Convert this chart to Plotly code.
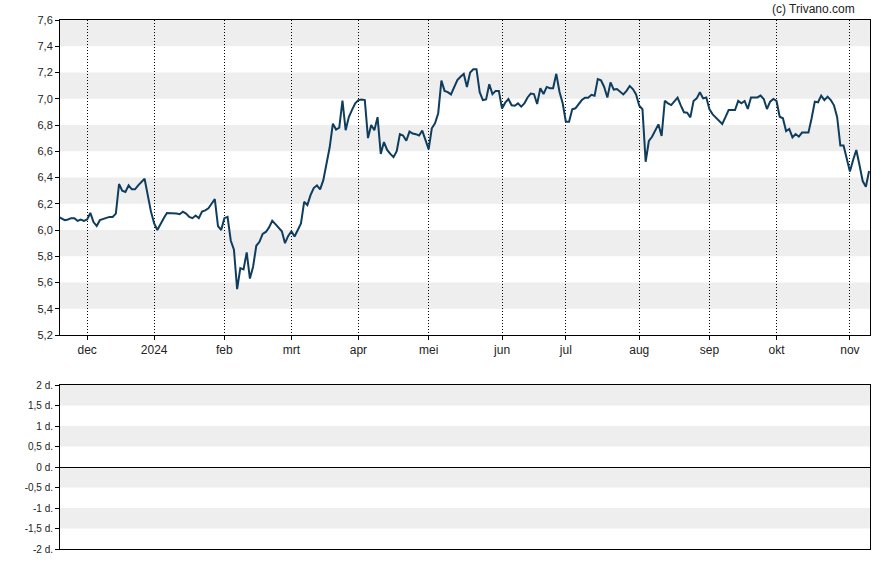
import pandas as pd
import plotly.graph_objects as go

# ---- data -------------------------------------------------------------
# trading-day offsets (trading days counted from 2023-11-20) and closing prices
day_idx = [0, 2, 3, 4, 5, 6, 7, 8, 9, 10, 11, 12, 13, 14, 15, 16, 17, 18, 19, 20,
           21, 22, 23, 24, 25, 26, 27, 29, 30, 31, 32, 33, 34, 35, 36, 37, 38, 39, 40, 41,
           42, 43, 44, 45, 46, 47, 48, 49, 50, 51, 52, 53, 54, 55, 56, 57, 58, 59, 60, 61,
           62, 63, 64, 65, 66, 67, 68, 69, 70, 71, 72, 73, 74, 75, 76, 77, 78, 79, 80, 81,
           82, 83, 84, 85, 86, 87, 88, 89, 90, 91, 92, 93, 94, 95, 96, 97, 98, 99, 100, 101,
           102, 103, 104, 105, 106, 107, 108, 109, 110, 111, 112, 113, 114, 115, 116, 117, 118, 119, 120, 121,
           122, 123, 124, 125, 126, 127, 128, 129, 130, 131, 132, 133, 134, 135, 136, 137, 138, 139, 140, 141,
           142, 143, 144, 145, 146, 147, 148, 149, 150, 151, 152, 153, 154, 155, 156, 157, 158, 159, 160, 161,
           162, 163, 164, 165, 166, 167, 168, 169, 170, 171, 172, 173, 174, 175, 176, 177, 178, 179, 180, 181,
           182, 183, 184, 185, 186, 187, 188, 189, 190, 191, 192, 193, 194, 195, 196, 197, 198, 199, 200, 201,
           202, 203, 204, 205, 206, 207, 208, 209, 210, 211, 212, 213, 214, 215, 216, 217, 218, 219, 220, 221,
           222, 223, 224, 225, 226, 227, 228, 229, 230, 231, 232, 233, 234, 235, 236, 237, 238, 239, 240, 241,
           242, 243, 244, 245, 246, 247, 248, 249, 250, 251, 252, 253, 254]
price = [6.10, 6.075, 6.08, 6.09, 6.09, 6.07, 6.08, 6.07, 6.08, 6.13, 6.06, 6.03, 6.075, 6.085, 6.095, 6.10, 6.10, 6.125, 6.35, 6.30,
         6.29, 6.34, 6.31, 6.31, 6.34, 6.365, 6.39, 6.14, 6.05, 6.00, 6.05, 6.09, 6.13, 6.13, 6.125, 6.125, 6.12, 6.14, 6.125, 6.10,
         6.09, 6.11, 6.09, 6.14, 6.15, 6.165, 6.20, 6.235, 6.03, 6.00, 6.09, 6.10, 5.92, 5.85, 5.55, 5.71, 5.70, 5.83, 5.63, 5.72,
         5.88, 5.91, 5.97, 5.985, 6.02, 6.07, 6.045, 6.02, 5.99, 5.90, 5.955, 5.99, 5.95, 6.00, 6.05, 6.215, 6.19, 6.265, 6.32, 6.34,
         6.31, 6.38, 6.52, 6.63, 6.81, 6.765, 6.78, 6.985, 6.76, 6.86, 6.915, 6.965, 6.99, 6.995, 6.99, 6.70, 6.80, 6.76, 6.86, 6.58,
         6.67, 6.61, 6.58, 6.555, 6.60, 6.73, 6.72, 6.68, 6.75, 6.735, 6.73, 6.72, 6.757, 6.686, 6.615, 6.775, 6.813, 6.89, 7.138, 7.06,
         7.05, 7.033, 7.09, 7.143, 7.168, 7.19, 7.09, 7.20, 7.225, 7.225, 7.05, 6.99, 6.995, 7.11, 7.035, 7.06, 7.06, 6.925, 6.97,
         6.998, 6.95, 6.947, 6.965, 6.94, 6.965, 7.01, 7.04, 7.036, 6.96, 7.08, 7.036, 7.09, 7.08, 7.08, 7.19, 7.054, 6.965, 6.825, 6.825,
         6.92, 6.927, 6.957, 6.99, 7.008, 7.008, 7.03, 7.023, 7.15, 7.14, 7.09, 7.01, 7.125, 7.07, 7.074, 7.05, 7.033, 7.06, 7.097, 7.074,
         7.033, 6.947, 6.92, 6.52, 6.678, 6.71, 6.754, 6.805, 6.716, 6.985, 6.965, 6.952, 6.98, 7.008, 6.95, 6.897, 6.894, 6.858, 6.983, 7.003,
         7.049, 7.003, 7.01, 6.92, 6.881, 6.858, 6.838, 6.808, 6.86, 6.914, 6.914, 6.914, 6.983, 6.965, 6.983, 6.922, 7.01, 7.01, 7.01, 7.024,
         6.998, 6.922, 6.978, 6.998, 6.983, 6.863, 6.851, 6.754, 6.77, 6.706, 6.731, 6.711, 6.742, 6.742, 6.742, 6.851, 6.978, 6.973, 7.024, 6.99,
         7.016, 6.99, 6.95, 6.86, 6.643, 6.643, 6.546, 6.445, 6.533, 6.61, 6.495, 6.373, 6.33, 6.45]

holidays = ["2024-01-01"]

month_ticks = ["2023-12-01", "2024-01-02", "2024-02-01", "2024-03-01", "2024-04-01", "2024-05-01",
               "2024-06-03", "2024-07-01", "2024-08-01", "2024-09-02", "2024-10-01", "2024-11-01"]
month_labels = ["dec", "2024", "feb", "mrt", "apr", "mei", "jun", "jul", "aug", "sep", "okt", "nov"]

price_ticks = [5.2, 5.4, 5.6, 5.8, 6.0, 6.2, 6.4, 6.6, 6.8, 7.0, 7.2, 7.4, 7.6]
lower_ticks = [-2, -1.5, -1, -0.5, 0, 0.5, 1, 1.5, 2]
lower_labels = ["-2 d.", "-1,5 d.", "-1 d.", "-0,5 d.", "0 d.", "0,5 d.", "1 d.", "1,5 d.", "2 d."]

x_range = ["2023-11-20 12:00", "2024-11-11 07:00"]

# ---- figure -----------------------------------------------------------
W, H = 888, 565
dates = pd.bdate_range("2023-11-20", periods=260, freq="C", holidays=holidays)
xs = [dates[i] for i in day_idx]
breaks = [dict(bounds=["sat", "mon"]), dict(values=holidays)]

fig = go.Figure()
fig.add_trace(go.Scatter(x=xs, y=price, mode="lines",
                         line=dict(color="#0f3d5e", width=2),
                         xaxis="x", yaxis="y", hoverinfo="skip"))
fig.add_trace(go.Scatter(x=[xs[1]], y=[None], mode="lines",
                         xaxis="x2", yaxis="y2", hoverinfo="skip"))

shapes = []
# alternating bands, top panel
for k in range(len(price_ticks) - 1, 0, -2):
    shapes.append(dict(type="rect", xref="x domain", yref="y", x0=0, x1=1,
                       y0=price_ticks[k - 1], y1=price_ticks[k],
                       fillcolor="#eeeeee", line=dict(width=0), layer="below"))
# alternating bands, lower panel
for k in range(len(lower_ticks) - 1, 0, -2):
    shapes.append(dict(type="rect", xref="x2 domain", yref="y2", x0=0, x1=1,
                       y0=lower_ticks[k - 1], y1=lower_ticks[k],
                       fillcolor="#eeeeee", line=dict(width=0), layer="below"))

font_main = "Liberation Sans, Arial, sans-serif"
xd = [60 / W, 870 / W]

fig.update_layout(
    width=W, height=H,
    margin=dict(l=0, r=0, t=0, b=0, autoexpand=False),
    paper_bgcolor="white", plot_bgcolor="white",
    separators=",.",
    showlegend=False,
    font=dict(family=font_main, color="#222", size=11),
    shapes=shapes,
    xaxis=dict(domain=xd, type="date", range=x_range, automargin=False,
               rangebreaks=breaks,
               tickvals=month_ticks, ticktext=month_labels,
               tickfont=dict(size=12, color="#222"),
               ticks="outside", ticklen=4, tickcolor="black",
               showgrid=True, gridcolor="black", gridwidth=1, griddash="1px,2px",
               showline=True, linecolor="black", linewidth=1, mirror=True,
               anchor="y", zeroline=False),
    yaxis=dict(domain=[1 - 335 / H, 1 - 20 / H], range=[5.2, 7.6], automargin=False,
               tickvals=price_ticks, tickformat=".1f",
               tickfont=dict(size=11, color="#222"),
               ticks="outside", ticklen=4, tickcolor="black",
               showgrid=False, zeroline=False,
               showline=True, linecolor="black", linewidth=1, mirror=True,
               anchor="x"),
    xaxis2=dict(domain=xd, type="date", range=x_range, automargin=False,
                rangebreaks=breaks,
                showticklabels=False, ticks="", showgrid=False, zeroline=False,
                showline=True, linecolor="black", linewidth=1, mirror=True,
                anchor="y2"),
    yaxis2=dict(domain=[1 - 549 / H, 1 - 385 / H], range=[-2, 2], automargin=False,
                tickvals=lower_ticks, ticktext=lower_labels,
                tickfont=dict(size=10, color="#222"),
                ticks="outside", ticklen=4, tickcolor="black",
                showgrid=False, zeroline=True, zerolinecolor="black", zerolinewidth=1,
                showline=True, linecolor="black", linewidth=1, mirror=True,
                anchor="x2"),
    annotations=[dict(text="(c) Trivano.com", xref="paper", yref="paper",
                      x=857 / W, y=1 - 9 / H, xanchor="right", yanchor="middle",
                      showarrow=False, font=dict(size=12, color="#222", family=font_main))],
)

fig.write_html("out.html")
